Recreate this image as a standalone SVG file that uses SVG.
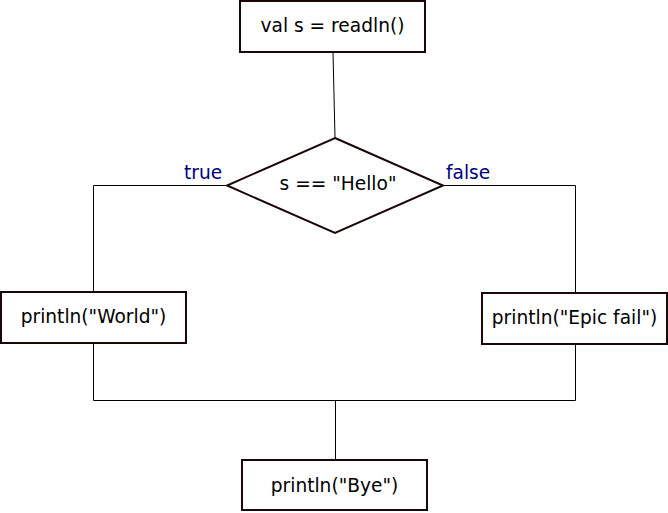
<svg xmlns="http://www.w3.org/2000/svg" width="668" height="513" viewBox="0 0 668 513">
<style>
.box{fill:#fff;stroke:#1a0808;stroke-width:2}
.t{font-family:"DejaVu Sans",sans-serif;font-size:18.6px;fill:#000;text-anchor:middle}
.lbl{font-family:"DejaVu Sans",sans-serif;font-size:18.6px;fill:#000080}
.c{fill:none;stroke:#000;stroke-width:1}
</style>
<rect width="668" height="513" fill="#fff"/>
<g id="connectors">
<path class="c" d="M333 52 L335 138"/>
<path class="c" d="M227 185.5 H93.5 V292"/>
<path class="c" d="M443 185.5 H575.5 V293"/>
<path class="c" d="M93.5 344 V400.5 H575.5 V345"/>
<path class="c" d="M335.5 400.5 V460"/>
<text class="lbl" x="184" y="179">true</text>
<text class="lbl" x="446" y="179">false</text>
</g>
<g id="start">
<rect class="box" x="240" y="1" width="185" height="51"/>
<text class="t" x="332.5" y="32">val s = readln()</text>
</g>
<g id="decision">
<polygon points="335,138 443,185.5 335,233 227,185.5" fill="#fff" stroke="#1a0808" stroke-width="2"/>
<text class="t" x="338" y="190">s == "Hello"</text>
</g>
<g id="world">
<rect class="box" x="1" y="292" width="185" height="51"/>
<text class="t" x="93.5" y="323">println("World")</text>
</g>
<g id="epic">
<rect class="box" x="482" y="293" width="185" height="51"/>
<text class="t" x="574.5" y="324">println("Epic fail")</text>
</g>
<g id="bye">
<rect class="box" x="242" y="460" width="185" height="50"/>
<text class="t" x="334.5" y="492">println("Bye")</text>
</g>
</svg>
